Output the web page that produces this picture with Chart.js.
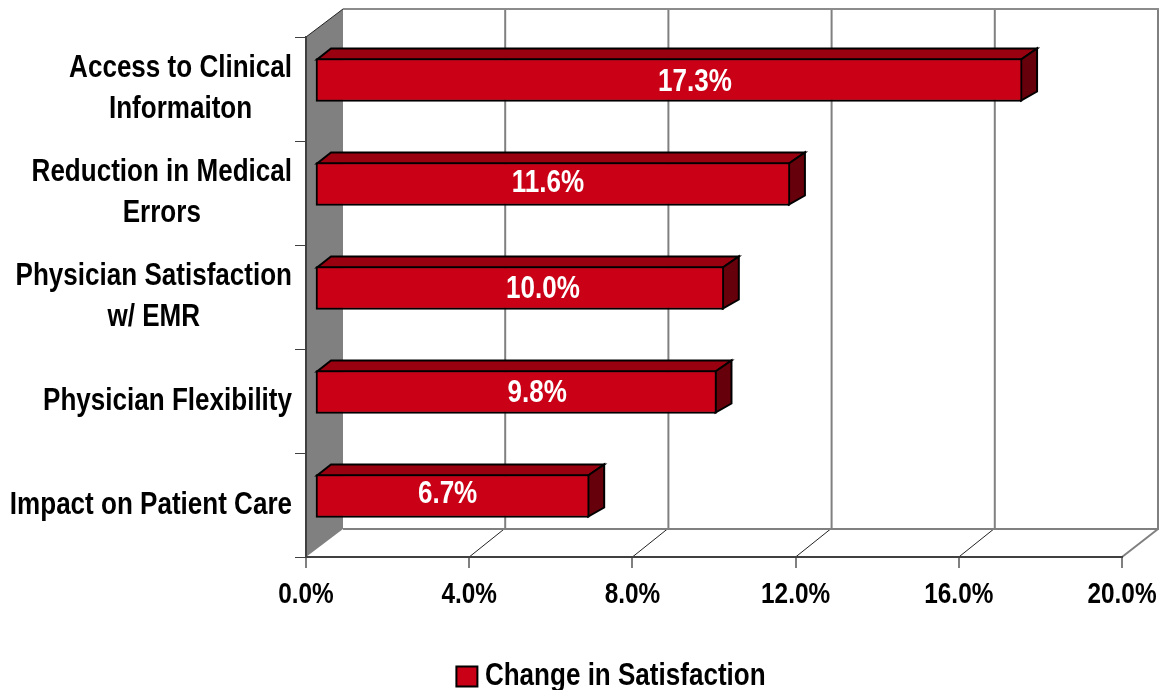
<!DOCTYPE html>
<html><head><meta charset="utf-8">
<style>html,body{margin:0;padding:0;background:#fff}#w{width:1165px;height:690px}canvas{display:block}</style>
<script src="https://cdn.jsdelivr.net/npm/chart.js@4"></script></head>
<body><div id="w"><canvas id="c" width="1165" height="690"></canvas></div>
<script>
const categories=[["Access to Clinical","Informaiton"],["Reduction in Medical","Errors"],["Physician Satisfaction","w/ EMR"],["Physician Flexibility"],["Impact on Patient Care"]];
const seriesName="Change in Satisfaction";
const satisfactionChange=[17.33,11.64,10.02,9.84,6.72];
const labelShiftX=[26,-5,23,21,-5];
const labelShiftY=[2,-1,1,1,-2];
const FONT='"Liberation Sans",Arial,sans-serif';
const NARROW=0.84;
const DEPTH_X=36,SIDE_X=37,DEPTH_Y=28,BAR_DX=9,BAR_DY=-9,BAR_DEPTH_X=15,BAR_DEPTH_Y=10;
const canvas=document.getElementById('c'),rawCtx=canvas.getContext('2d');
const oFill=rawCtx.fillText.bind(rawCtx),oMeasure=rawCtx.measureText.bind(rawCtx);
rawCtx.fillText=function(t,x,y){this.save();this.translate(t===seriesName?x-8:x,y);this.scale(NARROW,1);oFill(t,0,0);this.restore();};
rawCtx.measureText=function(t){return {width:oMeasure(t).width*NARROW};};
function line(ctx,x1,y1,x2,y2,col,w){ctx.strokeStyle=col;ctx.lineWidth=w;ctx.beginPath();ctx.moveTo(x1,y1);ctx.lineTo(x2,y2);ctx.stroke();}
function poly(ctx,pts,fill,stroke,w){ctx.beginPath();pts.forEach((p,i)=>i?ctx.lineTo(p[0],p[1]):ctx.moveTo(p[0],p[1]));ctx.closePath();ctx.fillStyle=fill;ctx.fill();if(stroke){ctx.strokeStyle=stroke;ctx.lineWidth=w;ctx.lineJoin='miter';ctx.stroke();}}
const box3d={id:'box3d',
 afterLayout(chart){const l=chart.legend;l.left+=54;l.right+=54;l.top+=12;l.bottom+=12;},
 beforeDraw(chart){const ctx=chart.ctx,a=chart.chartArea,x=chart.scales.x;ctx.save();
  const L=a.left,R=a.right,T=a.top,B=a.bottom,dx=DEPTH_X,dy=DEPTH_Y;
  poly(ctx,[[L,T],[L+SIDE_X,T-dy],[L+SIDE_X,B-dy],[L,B]],'#808080');
  line(ctx,L,T,L+SIDE_X,T-dy,'#222',1);
  x.ticks.forEach(t=>{const px=x.getPixelForValue(t.value);
    if(t.value>0)line(ctx,px+dx,T-dy,px+dx,B-dy,'#808080',2);
    if(t.value>0&&t.value<20)line(ctx,px,B,px+dx-1,B-dy,'#222',1);});
  line(ctx,L+SIDE_X,T-dy,R+dx+1,T-dy,'#8c8c8c',2);
  line(ctx,L+SIDE_X,B-dy,R+dx+1,B-dy,'#808080',2);
  line(ctx,R,B,R+dx,B-dy,'#808080',2);
  ctx.restore();},
 beforeDatasetDraw(chart){const ctx=chart.ctx;ctx.save();ctx.translate(BAR_DX,BAR_DY);
  chart.getDatasetMeta(0).data.forEach(b=>{
    const l=b.base,r=b.x,t=b.y-b.height/2,bt=b.y+b.height/2,dx=BAR_DEPTH_X,dy=BAR_DEPTH_Y;
    poly(ctx,[[l+1,t+1],[l+dx,t-dy],[r+dx,t-dy],[r-1,t+1]],'#990010','#000',2);
    poly(ctx,[[r-1,t+1],[r+dx,t-dy],[r+dx,bt-dy],[r-1,bt-1]],'#66000b','#000',2);
  });},
 afterDatasetDraw(chart){chart.ctx.restore();},
 afterDatasetsDraw(chart){const ctx=chart.ctx,y=chart.scales.y;ctx.save();
  ctx.textBaseline='middle';ctx.textAlign='center';
  ctx.font='bold 31px '+FONT;ctx.fillStyle='#fff';
  chart.getDatasetMeta(0).data.forEach((b,i)=>{
    const cx=(b.base+b.x)/2+BAR_DX+labelShiftX[i];
    ctx.fillText(satisfactionChange[i].toFixed(1)+'%',cx,b.y+BAR_DY+labelShiftY[i]);});
  ctx.fillStyle='#000';
  categories.forEach((lines,i)=>{
    const w=Math.max(...lines.map(s=>ctx.measureText(s).width));
    const cx=292-w/2,cy=y.getPixelForTick(i);
    lines.forEach((s,k)=>ctx.fillText(s,cx,cy+(k-(lines.length-1)/2)*41));});
  ctx.restore();}
};
new Chart(canvas,{type:'bar',
 data:{labels:categories,datasets:[{label:seriesName,data:satisfactionChange,backgroundColor:'#c90016',borderColor:'#000',borderWidth:2,borderSkipped:false,barThickness:43}]},
 options:{indexAxis:'y',responsive:false,animation:false,
  layout:{padding:{top:37,left:0,right:43,bottom:0}},
  scales:{
   x:{min:0,max:20,afterFit(s){s.height=133-(s.chart.legend?s.chart.legend.height:0);s.paddingRight=0;s.paddingLeft=0;},
      border:{color:'#404040',width:2},
      grid:{drawOnChartArea:false,tickLength:11,color:'#808080',lineWidth:2},
      ticks:{stepSize:4,autoSkip:false,maxRotation:0,padding:10,color:'#000',font:{family:FONT,size:29,weight:'bold'},callback:v=>v.toFixed(1)+'%'}},
   y:{afterFit(s){s.width=306;},
      border:{color:'#404040',width:2},
      grid:{drawOnChartArea:false,tickLength:11,color:'#404040',lineWidth:1},
      ticks:{display:false}}
  },
  plugins:{legend:{position:'bottom',labels:{boxWidth:21,boxHeight:20,padding:8,color:'#000',font:{family:FONT,size:31,weight:'bold'}}},tooltip:{enabled:false}}
 },plugins:[box3d]});
</script></body></html>
